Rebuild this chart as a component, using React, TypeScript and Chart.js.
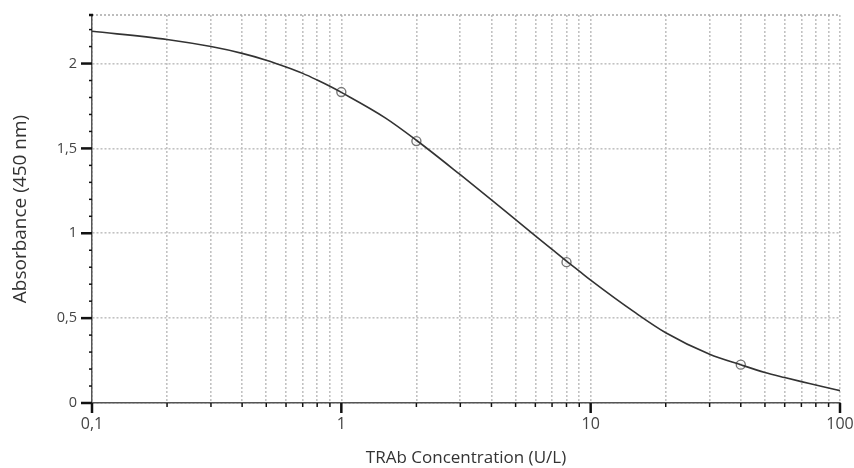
import React, { useEffect, useRef } from "react";
import { Chart, registerables } from "chart.js";
Chart.register(...registerables);

// Standards (measured points)
const standardConc = [1, 2, 8, 40];
const standardAbs = [1.832, 1.543, 0.83, 0.226];

// Fitted curve
const curveConc = [0.1, 0.2, 0.3, 0.4, 0.5, 0.6, 0.7, 0.8, 0.9, 1, 1.5, 2, 3, 4, 5, 6, 7, 8, 9, 10, 15, 20, 30, 40, 50, 60, 70, 80, 90, 100];
const curveAbs = [2.19, 2.142, 2.1, 2.06, 2.02, 1.98, 1.942, 1.903, 1.866, 1.83, 1.68, 1.548, 1.345, 1.197, 1.08, 0.985, 0.905, 0.836, 0.777, 0.724, 0.535, 0.414, 0.287, 0.225, 0.18, 0.15, 0.126, 0.106, 0.088, 0.073];

const xTickValues = [0.1, 0.2, 0.3, 0.4, 0.5, 0.6, 0.7, 0.8, 0.9, 1, 2, 3, 4, 5, 6, 7, 8, 9, 10, 20, 30, 40, 50, 60, 70, 80, 90, 100];
const xMajorLabels: Record<string, string> = { "0.1": "0,1", "1": "1", "10": "10", "100": "100" };
const yTickValues = [0, 0.5, 1, 1.5, 2];
const yTickLabels = ["0", "0,5", "1", "1,5", "2"];
const yMinorValues = [0.1, 0.2, 0.3, 0.4, 0.6, 0.7, 0.8, 0.9, 1.1, 1.2, 1.3, 1.4, 1.6, 1.7, 1.8, 1.9, 2.1, 2.2];
const yMax = 2.286;

const FONT = "'Open Sans', 'Noto Sans', sans-serif";

const tickPlugin = {
  id: "tickMarks",
  afterDraw(chart: any) {
    const ctx = chart.ctx;
    const { left, right, top, bottom } = chart.chartArea;
    const xs = chart.scales.x;
    const ys = chart.scales.y;
    ctx.save();
    // top border
    ctx.strokeStyle = "#a8a8a8";
    ctx.lineWidth = 1.5;
    ctx.setLineDash([2, 2]);
    ctx.beginPath();
    ctx.moveTo(left, top);
    ctx.lineTo(right, top);
    ctx.stroke();
    ctx.setLineDash([]);
    ctx.strokeStyle = "#111";
    // y major ticks
    ctx.lineWidth = 2.5;
    for (const v of yTickValues) {
      const y = ys.getPixelForValue(v);
      ctx.beginPath();
      ctx.moveTo(left - 11, y);
      ctx.lineTo(left, y);
      ctx.stroke();
    }
    ctx.beginPath();
    ctx.moveTo(left - 3, top);
    ctx.lineTo(left + 1, top);
    ctx.stroke();
    // y minor ticks
    ctx.lineWidth = 1.5;
    for (const v of yMinorValues) {
      const y = ys.getPixelForValue(v);
      ctx.beginPath();
      ctx.moveTo(left - 3, y);
      ctx.lineTo(left, y);
      ctx.stroke();
    }
    // x ticks
    for (const v of xTickValues) {
      const x = xs.getPixelForValue(v);
      const major = xMajorLabels[String(v)] !== undefined;
      ctx.lineWidth = major ? 2.5 : 1.5;
      ctx.beginPath();
      ctx.moveTo(x, bottom);
      ctx.lineTo(x, bottom + (major ? 10 : 4));
      ctx.stroke();
    }
    ctx.restore();
  },
};

export default function App() {
  const ref = useRef<HTMLCanvasElement>(null);
  useEffect(() => {
    document.body.style.margin = "0";
    const chart = new Chart(ref.current!, {
      type: "line",
      data: {
        datasets: [
          {
            label: "Curve",
            data: curveConc.map((c, i) => ({ x: c, y: curveAbs[i] })),
            borderColor: "#333",
            borderWidth: 1.6,
            pointRadius: 0,
            cubicInterpolationMode: "monotone",
            fill: false,
          },
          {
            label: "Standards",
            data: standardConc.map((c, i) => ({ x: c, y: standardAbs[i] })),
            showLine: false,
            pointStyle: "circle",
            pointRadius: 4.5,
            pointBorderColor: "#777",
            pointBackgroundColor: "rgba(255,255,255,0.6)",
            pointBorderWidth: 1.4,
          },
          {
            label: "StandardsCross",
            data: standardConc.map((c, i) => ({ x: c, y: standardAbs[i] })),
            showLine: false,
            pointStyle: "crossRot",
            pointRadius: 3,
            pointBorderColor: "#999",
            pointBorderWidth: 1,
          },
        ],
      },
      options: {
        animation: false,
        responsive: false,
        maintainAspectRatio: false,
        layout: { autoPadding: false, padding: { left: 0, right: 14, top: 15, bottom: 0 } },
        plugins: { legend: { display: false }, tooltip: { enabled: false } },
        scales: {
          x: {
            type: "logarithmic",
            min: 0.1,
            max: 100,
            afterBuildTicks: (scale: any) => {
              scale.ticks = xTickValues.map((v) => ({ value: v, major: false }));
            },
            afterFit: (scale: any) => {
              scale.height = 65;
              scale.paddingLeft = 0;
              scale.paddingRight = 0;
            },
            ticks: {
              autoSkip: false,
              maxRotation: 0,
              padding: 12,
              color: "#444",
              font: { family: FONT, size: 16 },
              callback: (v: any) => {
                const l = xMajorLabels[String(Number(v))];
                return l === undefined ? "" : l;
              },
            },
            grid: { drawTicks: false, color: "#c2c2c2", lineWidth: 1.6 },
            border: { display: true, color: "#555", width: 1.5, dash: [2, 2] },
            title: {
              display: true,
              text: "TRAb Concentration (U/L)",
              color: "#333",
              font: { family: FONT, size: 17 },
              padding: { top: 0, bottom: 0 },
            },
          },
          y: {
            type: "linear",
            min: 0,
            max: yMax,
            afterBuildTicks: (scale: any) => {
              scale.ticks = yTickValues.map((v) => ({ value: v }));
            },
            afterFit: (scale: any) => {
              scale.width = 92;
              scale.paddingTop = 0;
              scale.paddingBottom = 0;
            },
            ticks: {
              padding: 15,
              color: "#444",
              font: { family: FONT, size: 14.5 },
              callback: (v: any) => {
                const i = yTickValues.indexOf(Number(v));
                return i >= 0 ? yTickLabels[i] : "";
              },
            },
            grid: { drawTicks: false, color: "#c2c2c2", lineWidth: 1.6 },
            border: { display: true, color: "#555", width: 1.5, dash: [2, 2] },
            title: {
              display: true,
              text: "Absorbance (450 nm)",
              color: "#333",
              font: { family: FONT, size: 19 },
              padding: { top: 9, bottom: 0 },
            },
          },
        },
      } as any,
      plugins: [tickPlugin],
    });
    return () => chart.destroy();
  }, []);
  return <canvas ref={ref} width={854} height={468} style={{ display: "block" }} />;
}
